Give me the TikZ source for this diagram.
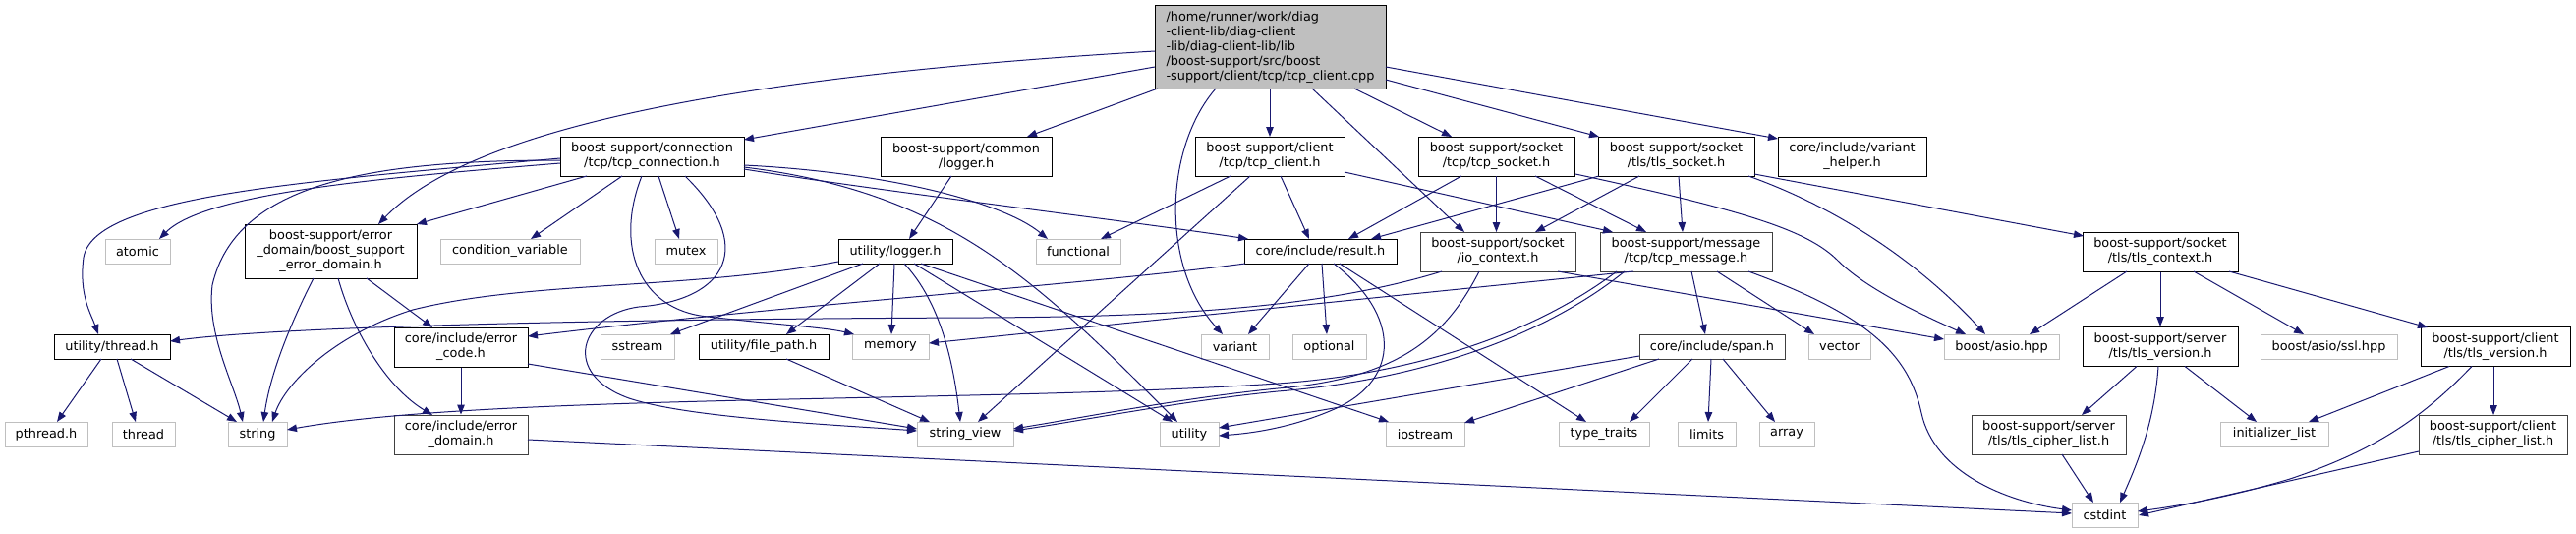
\documentclass[tikz,border=0pt]{standalone}
\usepackage{fontspec}
\setmainfont{DejaVu Sans}
\usetikzlibrary{arrows.meta}
\definecolor{edgeblue}{HTML}{191970}
\definecolor{greyext}{HTML}{BFBFBF}
\definecolor{greydk}{HTML}{404040}
\begin{document}
\begin{tikzpicture}[x=1pt,y=-1pt,
  box/.style={draw=black, line width=1pt, fill=white, inner sep=0pt, font=\fontsize{12.85}{15}\selectfont, align=center, text=black},
  ext/.style={box, draw=greyext},
  dk/.style={box, draw=greydk},
  rootbox/.style={box, fill=greyext, align=left},
  edge/.style={draw=edgeblue, line width=1pt, -{Triangle[length=10pt,width=7.5pt]}}]
\useasboundingbox (0,0) rectangle (2621,543);
% ---- nodes ----
\node[rootbox, minimum width=235pt, minimum height=84pt] (root) at (1292.5,48) {/home/runner/work/diag\\-client-lib/diag-client\\-lib/diag-client-lib/lib\\/boost-support/src/boost\\-support/client/tcp/tcp\_client.cpp};
\node[box, minimum width=187pt, minimum height=40pt] (conn) at (663.5,159) {boost-support/connection\\/tcp/tcp\_connection.h};
\node[box, minimum width=174pt, minimum height=40pt] (clog) at (983,159) {boost-support/common\\/logger.h};
\node[box, minimum width=152pt, minimum height=40pt] (tcpcli) at (1292,159) {boost-support/client\\/tcp/tcp\_client.h};
\node[box, minimum width=159pt, minimum height=40pt] (tcpsock) at (1522.5,159) {boost-support/socket\\/tcp/tcp\_socket.h};
\node[box, minimum width=159pt, minimum height=40pt] (tlssock) at (1705.5,159) {boost-support/socket\\/tls/tls\_socket.h};
\node[box, minimum width=151pt, minimum height=40pt] (varhelp) at (1884.5,159) {core/include/variant\\\_helper.h};
\node[box, minimum width=175pt, minimum height=55pt] (bsed) at (336.5,255.5) {boost-support/error\\\_domain/boost\_support\\\_error\_domain.h};
\node[ext, minimum width=66pt, minimum height=25pt] (atomic) at (140,255.5) {atomic};
\node[ext, minimum width=142pt, minimum height=25pt] (condvar) at (519,255.5) {condition\_variable};
\node[ext, minimum width=64pt, minimum height=25pt] (mutex) at (698,255.5) {mutex};
\node[box, minimum width=116pt, minimum height=25pt] (ulog) at (911,255.5) {utility/logger.h};
\node[ext, minimum width=86pt, minimum height=25pt] (functional) at (1097,255.5) {functional};
\node[box, minimum width=155pt, minimum height=25pt] (result) at (1343.5,255.5) {core/include/result.h};
\node[dk, minimum width=158pt, minimum height=40pt] (ioctx) at (1524,256) {boost-support/socket\\/io\_context.h};
\node[dk, minimum width=175pt, minimum height=40pt] (tcpmsg) at (1715.5,256) {boost-support/message\\/tcp/tcp\_message.h};
\node[box, minimum width=158pt, minimum height=40pt] (tlsctx) at (2198,256) {boost-support/socket\\/tls/tls\_context.h};
\node[box, minimum width=118pt, minimum height=25pt] (threadh) at (114,352.5) {utility/thread.h};
\node[box, minimum width=136pt, minimum height=40pt] (errcode) at (469,353) {core/include/error\\\_code.h};
\node[ext, minimum width=75pt, minimum height=25pt] (sstream) at (648.5,352.5) {sstream};
\node[box, minimum width=132pt, minimum height=25pt] (filepath) at (777,352.5) {utility/file\_path.h};
\node[ext, minimum width=78pt, minimum height=25pt] (memory) at (906,352.5) {memory};
\node[ext, minimum width=69pt, minimum height=25pt] (variant) at (1256.5,352.5) {variant};
\node[ext, minimum width=75pt, minimum height=25pt] (optional) at (1352.5,352.5) {optional};
\node[dk, minimum width=148pt, minimum height=25pt] (span) at (1742,352.5) {core/include/span.h};
\node[ext, minimum width=63pt, minimum height=25pt] (vector) at (1871.5,352.5) {vector};
\node[ext, minimum width=117pt, minimum height=25pt] (asio) at (2036.5,352.5) {boost/asio.hpp};
\node[box, minimum width=158pt, minimum height=40pt] (srvver) at (2198,352.5) {boost-support/server\\/tls/tls\_version.h};
\node[ext, minimum width=139pt, minimum height=25pt] (ssl) at (2369.5,352.5) {boost/asio/ssl.hpp};
\node[box, minimum width=152pt, minimum height=40pt] (cliver) at (2539,352.5) {boost-support/client\\/tls/tls\_version.h};
\node[ext, minimum width=84pt, minimum height=25pt] (pthread) at (47,441.5) {pthread.h};
\node[ext, minimum width=64pt, minimum height=25pt] (thread) at (146,441.5) {thread};
\node[ext, minimum width=60pt, minimum height=25pt] (string) at (262,441.5) {string};
\node[dk, minimum width=136pt, minimum height=40pt] (errdom) at (469,442) {core/include/error\\\_domain.h};
\node[ext, minimum width=98pt, minimum height=25pt] (sview) at (982,441.5) {string\_view};
\node[ext, minimum width=60pt, minimum height=25pt] (utility) at (1210,441.5) {utility};
\node[ext, minimum width=80pt, minimum height=25pt] (iostream) at (1450,441.5) {iostream};
\node[ext, minimum width=92pt, minimum height=25pt] (typetraits) at (1632,441.5) {type\_traits};
\node[ext, minimum width=59pt, minimum height=25pt] (limits) at (1736.5,441.5) {limits};
\node[ext, minimum width=56pt, minimum height=25pt] (array) at (1818,441.5) {array};
\node[dk, minimum width=157pt, minimum height=40pt] (srvcl) at (2084.5,442) {boost-support/server\\/tls/tls\_cipher\_list.h};
\node[ext, minimum width=110pt, minimum height=25pt] (initlist) at (2314,441.5) {initializer\_list};
\node[dk, minimum width=151pt, minimum height=40pt] (clicl) at (2536.5,442) {boost-support/client\\/tls/tls\_cipher\_list.h};
\node[ext, minimum width=67pt, minimum height=25pt] (cstdint) at (2141.5,523.5) {cstdint};
% ---- edges: root ----
\draw[edge] ([shift={(-117.5,20)}]root.center) -- ([shift={(93.5,-17)}]conn.center);
\draw[edge] ([shift={(-117.5,4)}]root.center) .. controls (700,80) and (470,140) .. ([shift={(48.5,-27.5)}]bsed.center);
\draw[edge] ([shift={(-114.5,42)}]root.center) -- ([shift={(62,-20)}]clog.center);
\draw[edge] ([shift={(-55.5,42)}]root.center) .. controls (1185,150) and (1180,270) .. ([shift={(-12.5,-12.5)}]variant.center);
\draw[edge] ([shift={(-0.5,42)}]root.center) -- ([shift={(0,-20)}]tcpcli.center);
\draw[edge] ([shift={(42.5,42)}]root.center) -- ([shift={(-34,-20)}]ioctx.center);
\draw[edge] ([shift={(85.5,42)}]root.center) -- ([shift={(-45.5,-20)}]tcpsock.center);
\draw[edge] ([shift={(117.5,33)}]root.center) -- ([shift={(-78.5,-20)}]tlssock.center);
\draw[edge] ([shift={(117.5,20)}]root.center) -- ([shift={(-75.5,-18)}]varhelp.center);
% ---- conn ----
\draw[edge] ([shift={(-93.5,7)}]conn.center) .. controls (400,180) and (210,195) .. ([shift={(22,-12.5)}]atomic.center);
\draw[edge] ([shift={(-66.5,20)}]conn.center) -- ([shift={(87.5,-27.5)}]bsed.center);
\draw[edge] ([shift={(-30.5,20)}]conn.center) -- ([shift={(21,-12.5)}]condvar.center);
\draw[edge] ([shift={(6.5,20)}]conn.center) -- ([shift={(-7,-12.5)}]mutex.center);
\draw[edge] ([shift={(-10.5,20)}]conn.center) .. controls (625,250) and (650,315) .. (720,322) .. controls (790,330) and (840,333) .. ([shift={(-37,-12.5)}]memory.center);
\draw[edge] ([shift={(33.5,20)}]conn.center) .. controls (770,250) and (740,305) .. (650,312) .. controls (590,320) and (570,380) .. (640,405) .. controls (700,425) and (850,432) .. ([shift={(-49,-3.5)}]sview.center);
\draw[edge] ([shift={(-93.5,4)}]conn.center) .. controls (380,163) and (240,185) .. (216,290) .. controls (210,340) and (238,390) .. ([shift={(-15,-12.5)}]string.center);
\draw[edge] ([shift={(-93.5,2)}]conn.center) .. controls (300,185) and (95,200) .. (85,262) .. controls (80,300) and (93,320) .. ([shift={(-14,-12.5)}]threadh.center);
\draw[edge] ([shift={(93.5,9)}]conn.center) .. controls (900,175) and (1020,205) .. ([shift={(-31,-12.5)}]functional.center);
\draw[edge] ([shift={(93.5,13)}]conn.center) .. controls (900,195) and (1150,225) .. ([shift={(-73.5,-12.5)}]result.center);
\draw[edge] ([shift={(93.5,11)}]conn.center) .. controls (960,195) and (1050,280) .. ([shift={(-12,-12.5)}]utility.center);
% ---- bsed ----
\draw[edge] ([shift={(-17.5,27.5)}]bsed.center) .. controls (295,330) and (275,380) .. ([shift={(6,-12.5)}]string.center);
\draw[edge] ([shift={(36.5,27.5)}]bsed.center) -- ([shift={(-29,-20)}]errcode.center);
\draw[edge] ([shift={(7.5,27.5)}]bsed.center) .. controls (360,340) and (395,395) .. ([shift={(-29,-20)}]errdom.center);
% ---- loggers ----
\draw[edge] ([shift={(-15,20)}]clog.center) -- ([shift={(14,-12.5)}]ulog.center);
\draw[edge] ([shift={(-58,10.5)}]ulog.center) .. controls (700,295) and (540,285) .. (420,315) .. controls (340,340) and (290,390) .. ([shift={(15,-12.5)}]string.center);
\draw[edge] ([shift={(-33,12.5)}]ulog.center) -- ([shift={(33.5,-12.5)}]sstream.center);
\draw[edge] ([shift={(-16,12.5)}]ulog.center) -- ([shift={(23,-12.5)}]filepath.center);
\draw[edge] ([shift={(-1,12.5)}]ulog.center) -- ([shift={(1,-12.5)}]memory.center);
\draw[edge] ([shift={(9,12.5)}]ulog.center) .. controls (950,300) and (968,350) .. ([shift={(-5,-12.5)}]sview.center);
\draw[edge] ([shift={(19,12.5)}]ulog.center) -- ([shift={(-17,-12.5)}]utility.center);
\draw[edge] ([shift={(26,12.5)}]ulog.center) -- ([shift={(-37,-12.5)}]iostream.center);
\draw[edge] ([shift={(23,12.5)}]filepath.center) -- ([shift={(-36,-12.5)}]sview.center);
% ---- error code / domain ----
\draw[edge] (errcode.south) -- (errdom.north);
\draw[edge] ([shift={(68,17)}]errcode.center) -- ([shift={(-49,-5.5)}]sview.center);
\draw[edge] ([shift={(68,5)}]errdom.center) -- ([shift={(-33.5,-1.5)}]cstdint.center);
% ---- tcp client ----
\draw[edge] ([shift={(-40,20)}]tcpcli.center) -- ([shift={(23,-12.5)}]functional.center);
\draw[edge] ([shift={(-20,20)}]tcpcli.center) -- ([shift={(13,-12.5)}]sview.center);
\draw[edge] ([shift={(11,20)}]tcpcli.center) -- ([shift={(-11.5,-12.5)}]result.center);
\draw[edge] ([shift={(76,16)}]tcpcli.center) -- ([shift={(-74.5,-20)}]tcpmsg.center);
% ---- tcp socket ----
\draw[edge] ([shift={(-35.5,20)}]tcpsock.center) -- ([shift={(28.5,-12.5)}]result.center);
\draw[edge] ([shift={(0,20)}]tcpsock.center) -- ([shift={(-1.5,-20)}]ioctx.center);
\draw[edge] ([shift={(39.5,20)}]tcpsock.center) -- ([shift={(-40.5,-20)}]tcpmsg.center);
\draw[edge] ([shift={(80.5,18)}]tcpsock.center) .. controls (1780,215) and (1840,235) .. (1870,265) .. controls (1900,295) and (1960,322) .. ([shift={(-36.5,-12.5)}]asio.center);
% ---- tls socket ----
\draw[edge] ([shift={(-78.5,20)}]tlssock.center) -- ([shift={(51.5,-12.5)}]result.center);
\draw[edge] ([shift={(-37.5,20)}]tlssock.center) -- ([shift={(38,-20)}]ioctx.center);
\draw[edge] ([shift={(2.5,20)}]tlssock.center) -- ([shift={(-3.5,-20)}]tcpmsg.center);
\draw[edge] ([shift={(79.5,18)}]tlssock.center) -- ([shift={(-78,-16)}]tlsctx.center);
\draw[edge] ([shift={(73.5,20)}]tlssock.center) .. controls (1880,215) and (1960,275) .. ([shift={(-16.5,-12.5)}]asio.center);
% ---- io context ----
\draw[edge] ([shift={(-57,20)}]ioctx.center) .. controls (1350,312) and (1200,322) .. (1000,323) .. controls (700,324) and (300,330) .. ([shift={(59,-5.5)}]threadh.center);
\draw[edge] ([shift={(-19,20)}]ioctx.center) .. controls (1470,345) and (1420,385) .. (1300,395) .. controls (1200,405) and (1100,425) .. ([shift={(49,-5.5)}]sview.center);
\draw[edge] ([shift={(61,20)}]ioctx.center) -- ([shift={(-58.5,-7.5)}]asio.center);
% ---- tcp message ----
\draw[edge] ([shift={(-53.5,20)}]tcpmsg.center) -- ([shift={(39,-3.5)}]memory.center);
\draw[edge] ([shift={(-70.5,20)}]tcpmsg.center) .. controls (1560,340) and (1440,380) .. (1300,390) .. controls (1000,410) and (500,400) .. ([shift={(30,-4.5)}]string.center);
\draw[edge] ([shift={(-62.5,20)}]tcpmsg.center) .. controls (1580,335) and (1460,385) .. (1300,398) .. controls (1200,408) and (1100,428) .. ([shift={(49,-3.5)}]sview.center);
\draw[edge] ([shift={(5.5,20)}]tcpmsg.center) -- ([shift={(-7,-12.5)}]span.center);
\draw[edge] ([shift={(31.5,20)}]tcpmsg.center) -- ([shift={(-25.5,-12.5)}]vector.center);
\draw[edge] ([shift={(63.5,20)}]tcpmsg.center) .. controls (1900,320) and (1942,360) .. (1955,420) .. controls (1968,480) and (2040,510) .. ([shift={(-33.5,-4.5)}]cstdint.center);
% ---- result ----
\draw[edge] ([shift={(-76.5,12.5)}]result.center) .. controls (1100,290) and (800,310) .. ([shift={(68,-11)}]errcode.center);
\draw[edge] ([shift={(-11.5,12.5)}]result.center) -- ([shift={(13.5,-12.5)}]variant.center);
\draw[edge] ([shift={(1.5,12.5)}]result.center) -- ([shift={(-2.5,-12.5)}]optional.center);
\draw[edge] ([shift={(13.5,12.5)}]result.center) .. controls (1425,320) and (1425,385) .. (1360,415) .. controls (1320,433) and (1280,440) .. ([shift={(30,1.5)}]utility.center);
\draw[edge] ([shift={(19.5,12.5)}]result.center) -- ([shift={(-18,-12.5)}]typetraits.center);
% ---- span ----
\draw[edge] ([shift={(-74,9.5)}]span.center) -- ([shift={(30,-6.5)}]utility.center);
\draw[edge] ([shift={(-54,12.5)}]span.center) -- ([shift={(40,-11.5)}]iostream.center);
\draw[edge] ([shift={(-20,12.5)}]span.center) -- ([shift={(26,-12.5)}]typetraits.center);
\draw[edge] ([shift={(-1,12.5)}]span.center) -- ([shift={(1.5,-12.5)}]limits.center);
\draw[edge] ([shift={(11,12.5)}]span.center) -- ([shift={(-12,-12.5)}]array.center);
% ---- tls context / versions ----
\draw[edge] ([shift={(-34,20)}]tlsctx.center) -- ([shift={(28.5,-12.5)}]asio.center);
\draw[edge] (tlsctx.south) -- (srvver.north);
\draw[edge] ([shift={(34,20)}]tlsctx.center) -- ([shift={(-25.5,-12.5)}]ssl.center);
\draw[edge] ([shift={(70,20)}]tlsctx.center) -- ([shift={(-69,-19.5)}]cliver.center);
\draw[edge] ([shift={(-24,20)}]srvver.center) -- ([shift={(33.5,-20)}]srvcl.center);
\draw[edge] ([shift={(-2,20)}]srvver.center) .. controls (2192,430) and (2175,470) .. ([shift={(15.5,-12.5)}]cstdint.center);
\draw[edge] ([shift={(25,20)}]srvver.center) -- ([shift={(-18,-12.5)}]initlist.center);
\draw[edge] ([shift={(-47,20)}]cliver.center) -- ([shift={(35,-12.5)}]initlist.center);
\draw[edge] ([shift={(-24,20)}]cliver.center) .. controls (2460,430) and (2410,460) .. (2330,487) .. controls (2270,505) and (2220,514) .. ([shift={(33.5,-3.5)}]cstdint.center);
\draw[edge] ([shift={(-2,20)}]cliver.center) -- ([shift={(0.5,-20)}]clicl.center);
\draw[edge] ([shift={(-75.5,17)}]clicl.center) -- ([shift={(34.5,0.5)}]cstdint.center);
\draw[edge] ([shift={(13.5,20)}]srvcl.center) -- ([shift={(-11.5,-12.5)}]cstdint.center);
% ---- thread ----
\draw[edge] ([shift={(-11,12.5)}]threadh.center) -- ([shift={(11,-12.5)}]pthread.center);
\draw[edge] ([shift={(5,12.5)}]threadh.center) -- ([shift={(-8,-12.5)}]thread.center);
\draw[edge] ([shift={(19,12.5)}]threadh.center) -- ([shift={(-21,-12.5)}]string.center);
\end{tikzpicture}
\end{document}
